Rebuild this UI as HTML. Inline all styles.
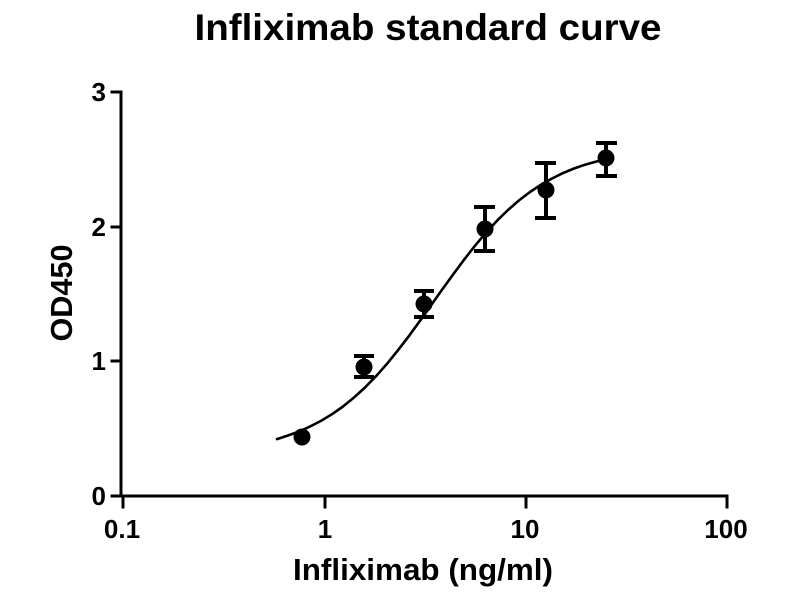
<!DOCTYPE html>
<html>
<head>
<meta charset="utf-8">
<style>
  html, body { margin: 0; padding: 0; background: #ffffff; }
  svg { display: block; }
  text { font-family: "Liberation Sans", Arial, sans-serif; font-weight: bold; fill: #000; }
</style>
</head>
<body>
<svg width="800" height="600" viewBox="0 0 800 600" xmlns="http://www.w3.org/2000/svg">
  <rect width="800" height="600" fill="#ffffff"/>

  <!-- Title -->
  <text x="428" y="40" font-size="37" text-anchor="middle" textLength="467" lengthAdjust="spacingAndGlyphs">Infliximab standard curve</text>

  <!-- Axes -->
  <g stroke="#000" stroke-width="3" fill="none" stroke-linecap="square">
    <line x1="121" y1="92" x2="121" y2="496"/>
    <line x1="121" y1="496" x2="727" y2="496"/>
    <!-- y ticks -->
    <line x1="112" y1="92" x2="121" y2="92"/>
    <line x1="112" y1="227" x2="121" y2="227"/>
    <line x1="112" y1="361" x2="121" y2="361"/>
    <line x1="112" y1="496" x2="121" y2="496"/>
    <!-- x ticks -->
    <line x1="123" y1="496" x2="123" y2="507"/>
    <line x1="325" y1="496" x2="325" y2="507"/>
    <line x1="526" y1="496" x2="526" y2="507"/>
    <line x1="727" y1="496" x2="727" y2="507"/>
  </g>

  <!-- Y tick labels -->
  <g font-size="26" text-anchor="end">
    <text x="106" y="101">3</text>
    <text x="106" y="236">2</text>
    <text x="106" y="370">1</text>
    <text x="106" y="505">0</text>
  </g>

  <!-- X tick labels -->
  <g font-size="26" text-anchor="middle">
    <text x="122" y="538">0.1</text>
    <text x="325" y="538">1</text>
    <text x="525" y="538">10</text>
    <text x="726" y="538">100</text>
  </g>

  <!-- Axis titles -->
  <text x="293" y="580" font-size="31" textLength="260" lengthAdjust="spacingAndGlyphs">Infliximab (ng/ml)</text>
  <text transform="translate(72,293) rotate(-90)" x="0" y="0" font-size="31" text-anchor="middle" textLength="97" lengthAdjust="spacingAndGlyphs">OD450</text>

  <!-- Fitted curve -->
  <polyline fill="none" stroke="#000" stroke-width="2.6" stroke-linejoin="round" stroke-linecap="round"
    points="277,439.1 288,435.5 299,431.5 310,426.5 321,420.9 332,414.2 343,406.5 354,397.5 365,387.5 376,376.2 387,363.8 398,350.2 409,335.9 420,320.8 431,305.4 442,289.8 453,274.6 464,259.8 475,245.7 486,232.7 497,220.7 508,210 519,200.4 530,192 541,184.7 552,178.5 563,173.1 574,168.5 585,164.7 596,161.6 607,158.9"/>

  <!-- Error bars -->
  <g stroke="#000" stroke-width="4" fill="none">
    <line x1="364" y1="356" x2="364" y2="377"/>
    <line x1="354" y1="356" x2="374" y2="356"/>
    <line x1="354" y1="377" x2="374" y2="377"/>
    <line x1="424" y1="291" x2="424" y2="317"/>
    <line x1="414" y1="291" x2="434" y2="291"/>
    <line x1="414" y1="317" x2="434" y2="317"/>
    <line x1="485" y1="207" x2="485" y2="251"/>
    <line x1="474" y1="207" x2="495" y2="207"/>
    <line x1="474" y1="251" x2="495" y2="251"/>
    <line x1="546" y1="163" x2="546" y2="218"/>
    <line x1="535" y1="163" x2="556" y2="163"/>
    <line x1="535" y1="218" x2="556" y2="218"/>
    <line x1="606" y1="143" x2="606" y2="176"/>
    <line x1="596" y1="143" x2="617" y2="143"/>
    <line x1="596" y1="176" x2="617" y2="176"/>
  </g>

  <!-- Data points -->
  <g fill="#000">
    <circle cx="302" cy="437" r="8.5"/>
    <circle cx="364" cy="367" r="8.5"/>
    <circle cx="424" cy="304" r="8.5"/>
    <circle cx="485" cy="229" r="8.5"/>
    <circle cx="546" cy="190" r="8.5"/>
    <circle cx="606" cy="158" r="8.5"/>
  </g>
</svg>
</body>
</html>
